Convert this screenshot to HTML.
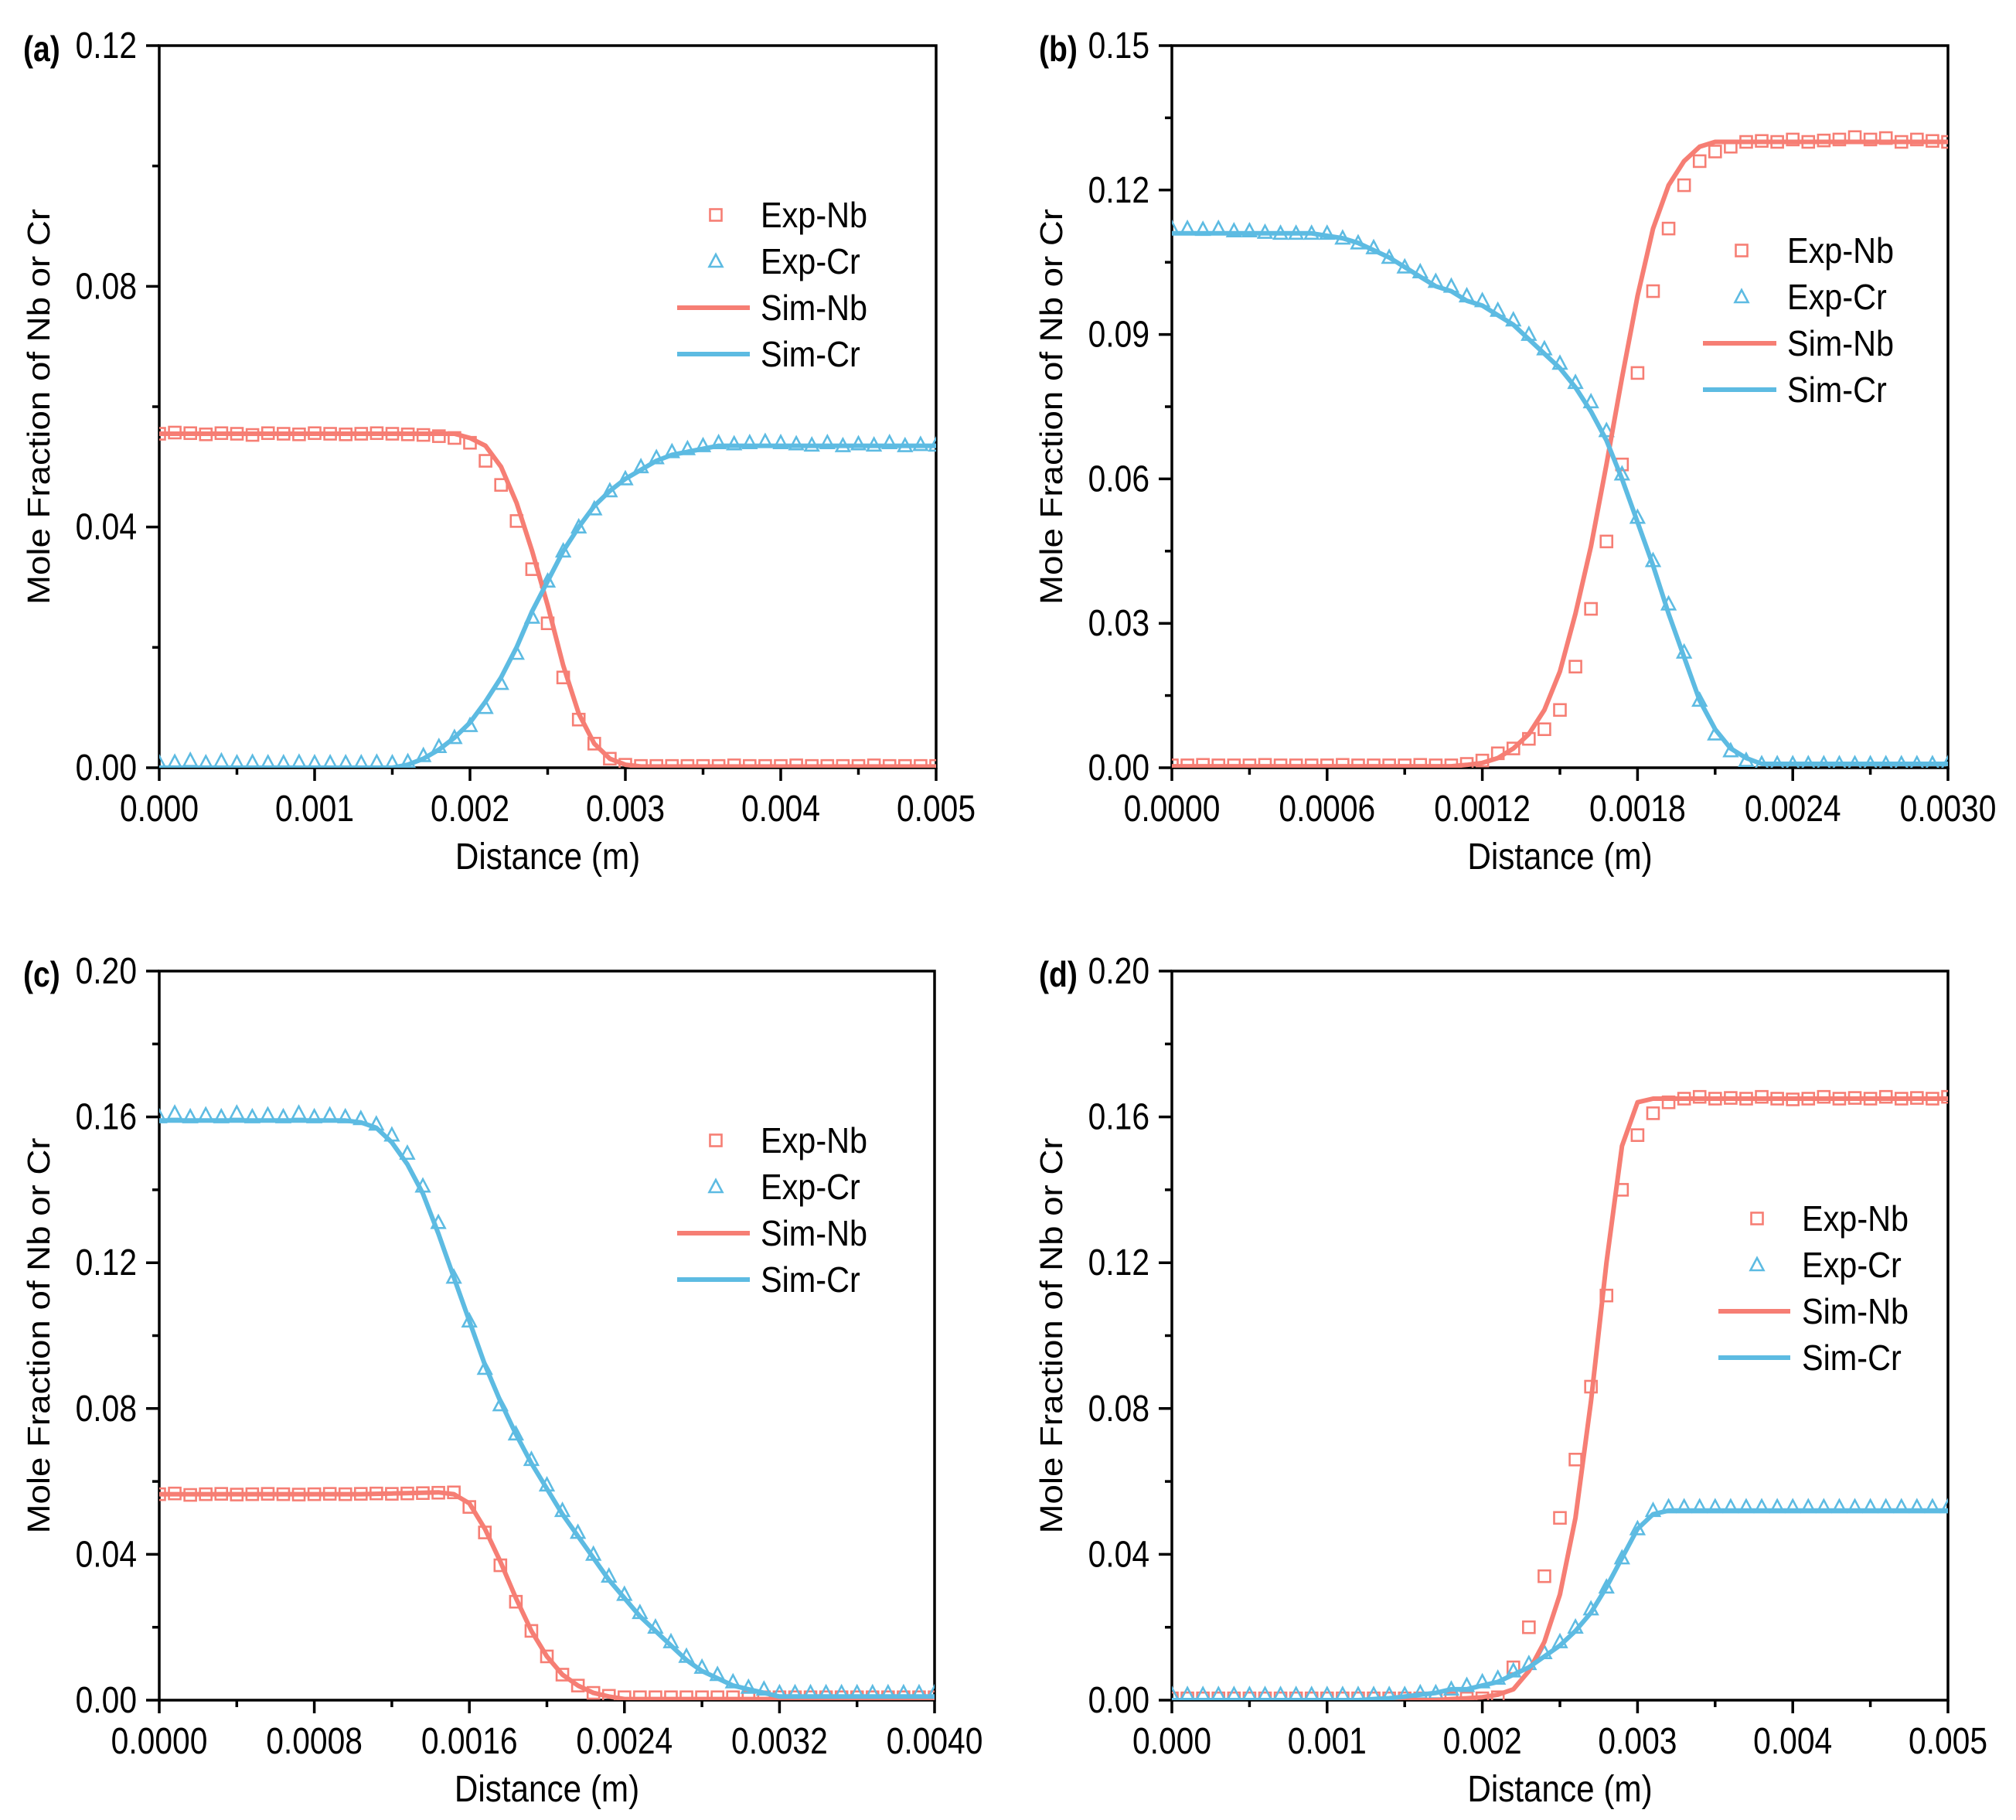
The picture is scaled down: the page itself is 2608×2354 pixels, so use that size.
<!DOCTYPE html>
<html><head><meta charset="utf-8"><style>
html,body{margin:0;padding:0;background:#fff;}
svg{display:block;font-family:"Liberation Sans",Arial,sans-serif;}
</style></head><body>
<svg id="chart" xmlns="http://www.w3.org/2000/svg" width="2608" height="2354" viewBox="0 0 2608 2354"></svg>
<script>
// ---------- data: panel (a) x step 0.0001 ----------
const aExpNb=[0.0555,0.0557,0.0556,0.0554,0.0556,0.0555,0.0553,0.0556,0.0555,0.0554,0.0556,0.0555,0.0554,0.0555,0.0556,0.0555,0.0554,0.0553,0.0551,0.0548,0.054,0.051,0.047,0.041,0.033,0.024,0.015,0.008,0.004,0.0015,0.0005,0.0003,0.0003,0.0003,0.0003,0.0003,0.0003,0.0004,0.0003,0.0003,0.0003,0.0004,0.0003,0.0003,0.0003,0.0003,0.0004,0.0003,0.0003,0.0003,0.0003];
const aSimNb=[0.0555,0.0555,0.0555,0.0555,0.0555,0.0555,0.0555,0.0555,0.0555,0.0555,0.0555,0.0555,0.0555,0.0555,0.0555,0.0555,0.0555,0.0555,0.0555,0.0555,0.0548,0.0535,0.050,0.044,0.036,0.027,0.017,0.009,0.004,0.0015,0.0005,0.0002,0.0002,0.0002,0.0002,0.0002,0.0002,0.0002,0.0002,0.0002,0.0002,0.0002,0.0002,0.0002,0.0002,0.0002,0.0002,0.0002,0.0002,0.0002,0.0002];
const aExpCr=[0.0008,0.0009,0.0012,0.0008,0.0011,0.0008,0.0009,0.0008,0.0008,0.0009,0.0008,0.0008,0.0008,0.0008,0.0009,0.0008,0.001,0.002,0.0035,0.005,0.007,0.010,0.014,0.019,0.025,0.031,0.036,0.040,0.043,0.046,0.048,0.050,0.0515,0.0525,0.053,0.0535,0.054,0.0538,0.054,0.0542,0.054,0.0538,0.0536,0.054,0.0535,0.0538,0.0536,0.054,0.0535,0.0537,0.0536];
const aSimCr=[0,0,0,0,0,0,0,0,0,0,0,0,0,0,0,0,0.0005,0.0015,0.003,0.005,0.0075,0.011,0.015,0.020,0.026,0.031,0.036,0.040,0.0435,0.046,0.048,0.0495,0.051,0.052,0.0525,0.053,0.0535,0.0535,0.0535,0.0535,0.0535,0.0535,0.0535,0.0535,0.0535,0.0535,0.0535,0.0535,0.0535,0.0535,0.0535];
// ---------- panel (b) x step 0.00006 ----------
const bExpNb=[0.0005,0.0005,0.0006,0.0005,0.0005,0.0005,0.0006,0.0005,0.0005,0.0005,0.0005,0.0006,0.0005,0.0005,0.0005,0.0005,0.0006,0.0005,0.0005,0.0008,0.0015,0.003,0.004,0.006,0.008,0.012,0.021,0.033,0.047,0.063,0.082,0.099,0.112,0.121,0.126,0.128,0.129,0.130,0.1302,0.130,0.1305,0.130,0.1303,0.1305,0.131,0.1305,0.1308,0.130,0.1305,0.1302,0.130];
const bSimNb=[0.0003,0.0003,0.0003,0.0003,0.0003,0.0003,0.0003,0.0003,0.0003,0.0003,0.0003,0.0003,0.0003,0.0003,0.0003,0.0003,0.0003,0.0003,0.0003,0.0006,0.001,0.002,0.004,0.007,0.012,0.020,0.032,0.046,0.063,0.081,0.098,0.112,0.121,0.126,0.129,0.130,0.130,0.130,0.130,0.130,0.130,0.130,0.130,0.130,0.130,0.130,0.130,0.130,0.130,0.130,0.130];
const bExpCr=[0.112,0.112,0.1118,0.112,0.1115,0.1115,0.1112,0.111,0.111,0.111,0.111,0.110,0.109,0.108,0.106,0.104,0.103,0.101,0.100,0.098,0.097,0.095,0.093,0.090,0.087,0.084,0.080,0.076,0.070,0.061,0.052,0.043,0.034,0.024,0.014,0.007,0.0035,0.0015,0.0008,0.0008,0.0008,0.0008,0.0008,0.0008,0.0008,0.0008,0.0008,0.0008,0.0008,0.0008,0.0008];
const bSimCr=[0.111,0.111,0.111,0.111,0.111,0.111,0.111,0.111,0.111,0.111,0.1105,0.110,0.109,0.1075,0.106,0.104,0.102,0.100,0.099,0.097,0.096,0.094,0.092,0.089,0.086,0.083,0.079,0.074,0.068,0.060,0.051,0.042,0.032,0.023,0.014,0.008,0.004,0.002,0.0008,0.0008,0.0008,0.0008,0.0008,0.0008,0.0008,0.0008,0.0008,0.0008,0.0008,0.0008,0.0008];
// ---------- panel (c) x step 0.00008 ----------
const cExpNb=[0.0565,0.0567,0.0563,0.0565,0.0566,0.0564,0.0565,0.0566,0.0565,0.0564,0.0565,0.0566,0.0565,0.0566,0.0567,0.0566,0.0567,0.0568,0.0569,0.057,0.053,0.046,0.037,0.027,0.019,0.012,0.007,0.004,0.002,0.0012,0.0008,0.0008,0.0008,0.0008,0.0008,0.0008,0.0008,0.0008,0.0008,0.0008,0.0008,0.0008,0.0008,0.0008,0.0008,0.0008,0.0008,0.0008,0.0008,0.0008,0.0008];
const cSimNb=[0.0565,0.0565,0.0565,0.0565,0.0565,0.0565,0.0565,0.0565,0.0565,0.0565,0.0565,0.0565,0.0565,0.0565,0.0566,0.0567,0.0568,0.0569,0.057,0.0565,0.054,0.047,0.038,0.028,0.019,0.012,0.007,0.004,0.002,0.001,0.0003,0.0003,0.0003,0.0003,0.0003,0.0003,0.0003,0.0003,0.0003,0.0003,0.0003,0.0003,0.0003,0.0003,0.0003,0.0003,0.0003,0.0003,0.0003,0.0003,0.0003];
const cExpCr=[0.160,0.161,0.160,0.1605,0.160,0.161,0.160,0.1605,0.160,0.161,0.160,0.1605,0.160,0.1595,0.158,0.155,0.150,0.141,0.131,0.116,0.104,0.091,0.081,0.073,0.066,0.059,0.052,0.046,0.040,0.034,0.029,0.024,0.020,0.016,0.012,0.009,0.007,0.005,0.0035,0.003,0.002,0.002,0.002,0.002,0.002,0.002,0.002,0.002,0.002,0.002,0.002];
const cSimCr=[0.159,0.159,0.159,0.159,0.159,0.159,0.159,0.159,0.159,0.159,0.159,0.159,0.159,0.1585,0.157,0.153,0.147,0.139,0.128,0.116,0.104,0.092,0.082,0.073,0.065,0.058,0.051,0.045,0.039,0.033,0.028,0.023,0.019,0.015,0.011,0.008,0.006,0.004,0.003,0.002,0.001,0.001,0.001,0.001,0.001,0.001,0.001,0.001,0.001,0.001,0.001];
// ---------- panel (d) x step 0.0001 ----------
const dExpNb=[0.0005,0.0005,0.0005,0.0005,0.0005,0.0005,0.0005,0.0005,0.0005,0.0005,0.0005,0.0005,0.0005,0.0005,0.0005,0.0005,0.0005,0.0005,0.0005,0.0005,0.0005,0.0008,0.009,0.020,0.034,0.050,0.066,0.086,0.111,0.140,0.155,0.161,0.164,0.165,0.1655,0.165,0.1652,0.165,0.1655,0.165,0.1648,0.165,0.1655,0.165,0.1652,0.165,0.1655,0.165,0.1652,0.165,0.1655];
const dSimNb=[0,0,0,0,0,0,0,0,0,0,0,0,0,0,0,0,0,0,0.0003,0.0005,0.0008,0.0015,0.003,0.008,0.016,0.029,0.050,0.082,0.120,0.152,0.164,0.165,0.165,0.165,0.165,0.165,0.165,0.165,0.165,0.165,0.165,0.165,0.165,0.165,0.165,0.165,0.165,0.165,0.165,0.165,0.165];
const dExpCr=[0.0015,0.0015,0.0015,0.0015,0.0015,0.0015,0.0015,0.0015,0.0015,0.0015,0.0015,0.0015,0.0015,0.0015,0.0015,0.0015,0.002,0.002,0.003,0.004,0.005,0.006,0.008,0.010,0.013,0.016,0.020,0.025,0.031,0.039,0.047,0.052,0.053,0.053,0.053,0.053,0.053,0.053,0.053,0.053,0.053,0.053,0.053,0.053,0.053,0.053,0.053,0.053,0.053,0.053,0.053];
const dSimCr=[0,0,0,0,0,0,0,0,0,0,0,0,0,0.0003,0.0005,0.001,0.0015,0.002,0.003,0.003,0.004,0.005,0.007,0.009,0.012,0.015,0.019,0.024,0.031,0.039,0.047,0.051,0.052,0.052,0.052,0.052,0.052,0.052,0.052,0.052,0.052,0.052,0.052,0.052,0.052,0.052,0.052,0.052,0.052,0.052,0.052];
// tick labels
const aXTicks=["0.000","0.001","0.002","0.003","0.004","0.005"];
const aYTicks=["0.00","0.04","0.08","0.12"];
const bXTicks=["0.0000","0.0006","0.0012","0.0018","0.0024","0.0030"];
const bYTicks=["0.00","0.03","0.06","0.09","0.12","0.15"];
const cXTicks=["0.0000","0.0008","0.0016","0.0024","0.0032","0.0040"];
const cYTicks=["0.00","0.04","0.08","0.12","0.16","0.20"];
const dXTicks=["0.000","0.001","0.002","0.003","0.004","0.005"];
const dYTicks=["0.00","0.04","0.08","0.12","0.16","0.20"];

const RED="#F67E74", BLUE="#5DBBE2";
const NS="http://www.w3.org/2000/svg";
const svg=document.getElementById('chart');
function mk(tag,attrs,parent){const e=document.createElementNS(NS,tag);for(const k in attrs)e.setAttribute(k,attrs[k]);(parent||svg).appendChild(e);return e;}

const panels=[
 {id:'a',L:206,R:1211,T:59,B:993,xmax:0.005,ymax:0.12,step:0.0001,xt:aXTicks,yt:aYTicks,
  s:[aExpNb,aExpCr,aSimNb,aSimCr],leg:{mx:926,tx:984,l1:876,l2:970,y:278}},
 {id:'b',L:1516,R:2520,T:59,B:993,xmax:0.003,ymax:0.15,step:0.00006,xt:bXTicks,yt:bYTicks,
  s:[bExpNb,bExpCr,bSimNb,bSimCr],leg:{mx:2253,tx:2312,l1:2203,l2:2298,y:324}},
 {id:'c',L:206,R:1209,T:1256,B:2199,xmax:0.004,ymax:0.20,step:0.00008,xt:cXTicks,yt:cYTicks,
  s:[cExpNb,cExpCr,cSimNb,cSimCr],leg:{mx:926,tx:984,l1:876,l2:970,y:1475}},
 {id:'d',L:1516,R:2520,T:1256,B:2199,xmax:0.005,ymax:0.20,step:0.0001,xt:dXTicks,yt:dYTicks,
  s:[dExpNb,dExpCr,dSimNb,dSimCr],leg:{mx:2273,tx:2331,l1:2223,l2:2316,y:1576}}
];

function narrowText(g,x,y,str,size,anchor,sx,weight){
  const t=mk('text',{x:0,y:0,'font-size':size,'text-anchor':anchor,'fill':'#000',transform:`translate(${x},${y}) scale(${sx},1)`},g);
  if(weight)t.setAttribute('font-weight',weight);
  t.textContent=str;return t;
}

panels.forEach(p=>{
  const g=mk('g',{});
  
  
  const xs=v=>p.L+(v/p.xmax)*(p.R-p.L);
  const ys=v=>p.B-(v/p.ymax)*(p.B-p.T);
  const cp=mk('clipPath',{id:'clip'+p.id},g);
  mk('rect',{x:p.L,y:p.T-10,width:p.R-p.L,height:p.B-p.T+10},cp);
  const frame=mk('rect',{x:p.L,y:p.T,width:p.R-p.L,height:p.B-p.T,fill:'none',stroke:'#000','stroke-width':3.5},g);
  
  
  const nx=p.xt.length-1;
  for(let i=0;i<=nx*2;i++){
    const v=p.xmax*i/(nx*2);const x=xs(v);const major=i%2===0;
    mk('line',{x1:x,y1:p.B,x2:x,y2:p.B+(major?17:9),stroke:'#000','stroke-width':3.5},g);
  }
  p.xt.forEach((lab,i)=>{
    const t=narrowText(g,xs(p.xmax*i/nx),p.B+69,lab,48,'middle',0.85);
    
    
  });
  const ny=p.yt.length-1;
  for(let i=0;i<=ny*2;i++){
    const v=p.ymax*i/(ny*2);const y=ys(v);const major=i%2===0;
    mk('line',{x1:p.L,y1:y,x2:p.L-(major?17:9),y2:y,stroke:'#000','stroke-width':3.5},g);
  }
  p.yt.forEach((lab,i)=>{
    const t=narrowText(g,p.L-29,ys(p.ymax*i/ny)+16,lab,48,'end',0.85);
    
    
  });
  const xt=narrowText(g,(p.L+p.R)/2,p.B+131,'Distance (m)',48,'middle',0.88);
  
  
  const ytx=p.L-142, yty=(p.T+p.B)/2;
  const yt=mk('text',{x:0,y:0,'font-size':41,'text-anchor':'middle',transform:`translate(${ytx},${yty}) rotate(-90)`,textLength:512,lengthAdjust:'spacingAndGlyphs'},g);
  yt.textContent='Mole Fraction of Nb or Cr';
  
  
  const pl=narrowText(g,p.L-(p.id==='d'||p.id==='b'?172:176),p.T+20,'('+p.id+')',46,'start',0.85,'bold');
  
  
  const data=mk('g',{'clip-path':`url(#clip${p.id})`},g);
  const [expNb,expCr,simNb,simCr]=p.s;
  expNb.forEach((v,i)=>{
    const x=xs(i*p.step),y=ys(v);
    const r=mk('rect',{x:x-7.5,y:y-7.5,width:15,height:15,fill:'none',stroke:RED,'stroke-width':2.6},data);
    
    
  });
  expCr.forEach((v,i)=>{
    const x=xs(i*p.step),y=ys(v);
    const tr=mk('polygon',{points:`${x},${y-9} ${x-8.5},${y+7} ${x+8.5},${y+7}`,fill:'none',stroke:BLUE,'stroke-width':2.6},data);
    
    
  });
  [[simNb,RED,'sim-nb-line'],[simCr,BLUE,'sim-cr-line']].forEach(([arr,col,nm])=>{
    const pts=arr.map((v,i)=>xs(i*p.step).toFixed(1)+','+ys(v).toFixed(1)).join(' ');
    const pl2=mk('polyline',{points:pts,fill:'none',stroke:col,'stroke-width':6,'stroke-linejoin':'round','stroke-linecap':'round'},data);
    
    
  });
  const lg=mk('g',{},g);
  
  
  const L=p.leg, dy=60;
  const names=['Exp-Nb','Exp-Cr','Sim-Nb','Sim-Cr'];
  const r1=mk('rect',{x:L.mx-7.5,y:L.y-7.5,width:15,height:15,fill:'none',stroke:RED,'stroke-width':2.6},lg);
  
  
  const y2=L.y+dy;
  const t2=mk('polygon',{points:`${L.mx},${y2-9} ${L.mx-8.5},${y2+7} ${L.mx+8.5},${y2+7}`,fill:'none',stroke:BLUE,'stroke-width':2.6},lg);
  
  
  const l3=mk('line',{x1:L.l1,y1:L.y+2*dy,x2:L.l2,y2:L.y+2*dy,stroke:RED,'stroke-width':6},lg);
  
  
  const l4=mk('line',{x1:L.l1,y1:L.y+3*dy,x2:L.l2,y2:L.y+3*dy,stroke:BLUE,'stroke-width':6},lg);
  
  
  names.forEach((n,i)=>{
    const t=narrowText(lg,L.tx,L.y+i*dy+16,n,46,'start',0.9);
    
    
  });
});
</script>
</body></html>
